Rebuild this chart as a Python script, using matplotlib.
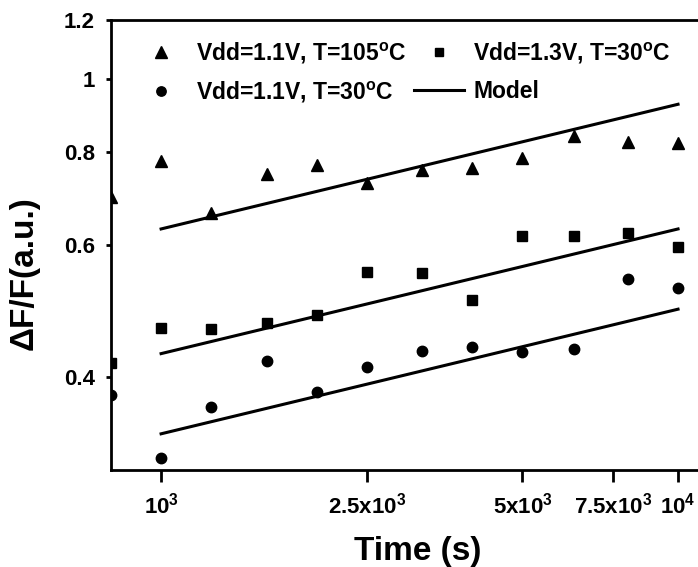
import matplotlib
matplotlib.use("Agg")
import matplotlib.pyplot as plt
from matplotlib.ticker import FixedLocator, FixedFormatter, NullLocator

plt.rcParams['font.family'] = ['Liberation Sans', 'DejaVu Sans']
plt.rcParams['font.weight'] = 'bold'
plt.rcParams['mathtext.default'] = 'regular'

# Data
time_s = [800, 1000, 1250, 1600, 2000, 2500, 3200, 4000, 5000, 6300, 8000, 10000]
tri_105C = [0.696, 0.777, 0.662, 0.747, 0.768, 0.726, 0.756, 0.760, 0.785, 0.839, 0.824, 0.821]
sq_13V_30C = [0.418, 0.465, 0.464, 0.472, 0.484, 0.552, 0.551, 0.507, 0.617, 0.617, 0.623, 0.597]
circ_11V_30C = [0.379, 0.312, 0.365, 0.420, 0.382, 0.413, 0.433, 0.439, 0.432, 0.436, 0.541, 0.526]

model_t = [1000, 10000]
model_tri = [0.631, 0.926]
model_sq = [0.430, 0.631]
model_circ = [0.336, 0.493]

xticks = [1000, 2500, 5000, 7500, 10000]
xtick_labels = [r'10$^{3}$', r'2.5x10$^{3}$', r'5x10$^{3}$', r'7.5x10$^{3}$', r'10$^{4}$']
yticks = [0.4, 0.6, 0.8, 1.0, 1.2]
ytick_labels = ['0.4', '0.6', '0.8', '1', '1.2']

fig = plt.figure(figsize=(6.98, 5.67), dpi=100)
ax = fig.add_axes([111/698, 1-470/567, 1-111/698, (470-20)/567])

h1, = ax.plot(time_s, tri_105C, linestyle='none', marker='^', markersize=9, color='black',
              label=r'Vdd=1.1V, T=105$^{o}$C')
h2, = ax.plot(time_s, circ_11V_30C, linestyle='none', marker='o', markersize=7.5, color='black',
              label=r'Vdd=1.1V, T=30$^{o}$C')
h3, = ax.plot(time_s, sq_13V_30C, linestyle='none', marker='s', markersize=7, color='black',
              label=r'Vdd=1.3V, T=30$^{o}$C')
h4, = ax.plot(model_t, model_tri, color='black', linewidth=2.2, label='Model')
ax.plot(model_t, model_sq, color='black', linewidth=2.2)
ax.plot(model_t, model_circ, color='black', linewidth=2.2)

ax.set_xscale('log')
ax.set_yscale('log')
ax.set_xlim(800, 10930)
ax.set_ylim(0.3006, 1.2)

ax.xaxis.set_major_locator(FixedLocator(xticks))
ax.xaxis.set_major_formatter(FixedFormatter(xtick_labels))
ax.xaxis.set_minor_locator(NullLocator())
ax.yaxis.set_major_locator(FixedLocator(yticks))
ax.yaxis.set_major_formatter(FixedFormatter(ytick_labels))
ax.yaxis.set_minor_locator(NullLocator())

ax.tick_params(axis='x', which='major', direction='out', length=8.5, width=2,
               labelsize=16, pad=8)
ax.tick_params(axis='y', which='major', direction='out', length=3.5, width=2,
               labelsize=16, pad=8)
for lab in ax.get_xticklabels() + ax.get_yticklabels():
    lab.set_fontweight('bold')

for side in ['left', 'bottom', 'top']:
    ax.spines[side].set_linewidth(2)
ax.spines['right'].set_visible(False)

ax.set_xlabel('Time (s)', fontsize=24, fontweight='bold')
ax.set_ylabel('ΔF/F(a.u.)', fontsize=24, fontweight='bold')
ax.xaxis.set_label_coords((418-111)/587, (470-536)/450)
ax.yaxis.set_label_coords((40-111)/587, (470-273)/450)

leg = ax.legend(handles=[h1, h2, h3, h4], ncol=2, frameon=False, fontsize=16.5,
                loc='upper left', bbox_to_anchor=(0.0075, 1.0), handlelength=2.2,
                handletextpad=0.4, columnspacing=0.35, labelspacing=0.6,
                markerscale=0.9)
for t in leg.get_texts():
    t.set_fontweight('bold')

fig.savefig('out.png', dpi=100)
